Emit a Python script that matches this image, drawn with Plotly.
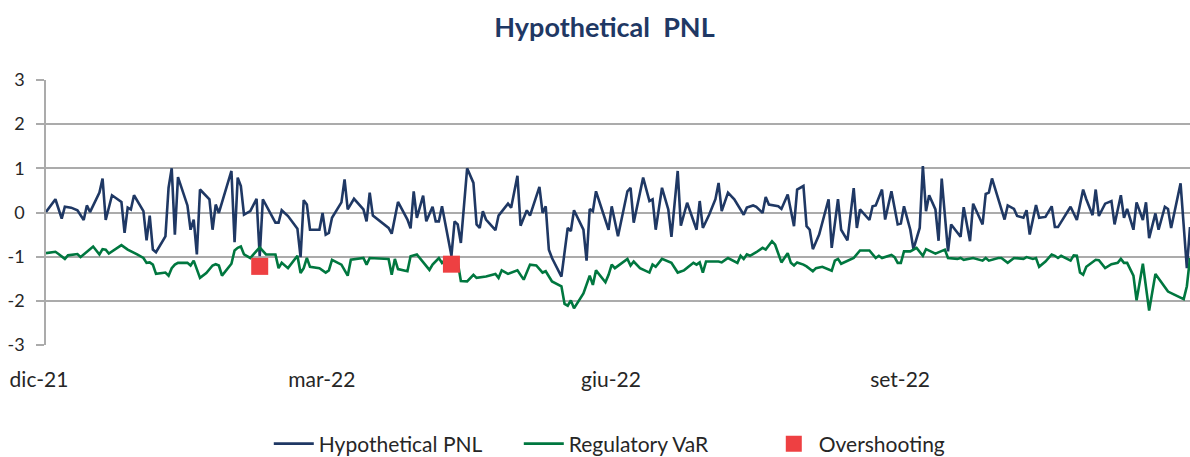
import pandas as pd
import plotly.graph_objects as go

start = pd.Timestamp("2021-12-01")

# Hypothetical PNL (days since 2021-12-01, value)
pnl_day = [0, 3, 5, 6, 8, 10, 12, 13, 14, 17,
           18, 19, 21, 24, 25, 26, 27, 28, 31, 32,
           33, 34, 35, 38, 39, 40, 41, 42, 45, 46,
           47, 48, 49, 52, 53, 54, 55, 59, 60, 61,
           62, 63, 65, 67, 68, 69, 73, 74, 75, 77,
           80, 81, 82, 83, 84, 87, 88, 89, 90, 91,
           94, 95, 96, 98, 101, 102, 103, 104, 109, 110,
           112, 115, 116, 117, 118, 120, 121, 123, 124, 125,
           126, 129, 130, 131, 132, 134, 136, 137, 138, 139,
           140, 143, 144, 147, 148, 150, 151, 153, 154, 157,
           158, 159, 160, 161, 164, 166, 167, 168, 171, 172,
           173, 174, 175, 179, 180, 182, 185, 186, 187, 190,
           192, 193, 194, 196, 198, 199, 201, 202, 204, 207,
           208, 209, 211, 213, 214, 215, 217, 219, 222, 223,
           225, 226, 228, 229, 230, 233, 234, 236, 238, 239,
           241, 242, 243, 244, 246, 249, 250, 252, 253, 255,
           257, 258, 259, 262, 263, 264, 266, 267, 269, 271,
           272, 273, 275, 276, 278, 279, 280, 281, 283, 284,
           285, 287, 288, 290, 291, 292, 294, 295, 298, 299,
           300, 301, 303, 305, 306, 308, 309, 311, 312, 313,
           315, 316, 318, 320, 321, 322, 326, 328, 330, 331,
           333, 334, 335, 337, 339, 340, 342, 343, 344, 346,
           347, 349, 350, 351, 353, 354, 356, 357, 358, 361,
           363, 364]
pnl_val = [0.01, 0.30, -0.14, 0.13, 0.11, 0.05, -0.17, 0.16, 0.01, 0.45,
           0.77, -0.17, 0.39, 0.24, -0.46, 0.11, 0.07, 0.39, 0.03, -0.63,
           -0.07, -0.84, -0.90, -0.54, 0.56, 1.00, -0.50, 0.80, 0.16, -0.39,
           -0.16, -0.95, 0.52, 0.30, -0.39, 0.18, -0.01, 0.94, -0.67, 0.79,
           0.60, -0.05, 0.03, 0.31, -0.99, 0.30, -0.23, -0.23, 0.05, -0.08,
           -0.37, -1.01, 0.28, 0.18, -0.39, -0.39, -0.01, -0.50, -0.46, -0.12,
           0.23, 0.75, 0.07, 0.31, 0.07, -0.20, 0.45, -0.07, -0.35, -0.48,
           0.24, -0.16, -0.36, 0.48, -0.12, 0.38, -0.20, 0.13, -0.20, -0.20,
           0.14, -0.98, -0.20, -0.27, -0.69, 1.00, 0.67, -0.27, -0.35, 0.03,
           -0.16, -0.40, -0.07, 0.20, 0.11, 0.83, -0.30, 0.05, -0.07, 0.58,
           -0.01, 0.14, -0.84, -1.03, -1.45, -0.35, -0.42, 0.05, -0.39, -1.09,
           0.08, 0.03, 0.48, -0.39, 0.14, -0.54, 0.48, 0.56, -0.23, 0.79,
           0.26, 0.30, -0.39, 0.56, 0.07, -0.55, 0.94, -0.30, 0.22, -0.39,
           0.26, -0.35, -0.05, 0.30, 0.67, 0.03, 0.45, 0.30, -0.05, 0.11,
           0.16, 0.13, -0.01, 0.35, 0.18, 0.14, 0.08, 0.41, -0.31, 0.52,
           0.60, -0.31, -0.39, -0.83, -0.50, 0.30, -0.80, 0.30, -0.39, -0.63,
           0.55, -0.35, 0.07, -0.17, 0.14, 0.16, 0.52, -0.16, 0.48, -0.27,
           -0.25, 0.14, -0.39, -0.83, -0.35, 1.05, 0.03, 0.39, 0.07, -0.64,
           0.77, -0.88, -0.27, -0.46, -0.55, 0.12, -0.65, 0.20, -0.27, 0.42,
           0.45, 0.77, 0.30, -0.16, 0.16, 0.08, -0.08, -0.12, 0.05, -0.50,
           0.17, -0.12, -0.10, 0.14, -0.33, -0.33, 0.13, -0.17, 0.52, 0.30,
           -0.06, 0.52, -0.08, 0.20, 0.26, -0.27, 0.39, -0.12, 0.08, -0.39,
           0.23, -0.17, 0.23, -0.58, -0.02, -0.39, 0.13, 0.08, -0.35, 0.66,
           -1.26, -0.33]

# Regulatory VaR (days since 2021-12-01, value)
var_day = [0, 3, 4, 6, 7, 10, 11, 15, 17, 18,
           19, 20, 24, 26, 29, 31, 32, 33, 34, 35,
           37, 38, 39, 40, 41, 42, 45, 46, 47, 49,
           51, 53, 54, 55, 56, 59, 60, 61, 62, 63,
           65, 67, 68, 70, 73, 74, 75, 77, 80, 81,
           82, 83, 84, 87, 89, 90, 91, 94, 96, 97,
           101, 102, 103, 109, 110, 111, 112, 115, 116, 118,
           121, 122, 123, 125, 126, 127, 131, 132, 134, 136,
           137, 140, 143, 144, 145, 147, 150, 152, 154, 156,
           158, 159, 161, 164, 165, 166, 167, 168, 171, 173,
           174, 175, 178, 179, 180, 181, 185, 186, 187, 189,
           192, 193, 194, 196, 199, 201, 203, 206, 207, 208,
           209, 210, 214, 215, 217, 220, 221, 222, 223, 224,
           226, 228, 229, 231, 232, 234, 236, 237, 238, 239,
           241, 242, 244, 245, 247, 248, 250, 251, 252, 253,
           255, 256, 257, 259, 262, 264, 265, 266, 269, 270,
           271, 272, 273, 275, 277, 279, 280, 283, 286, 287,
           290, 291, 292, 295, 298, 299, 300, 303, 304, 306,
           308, 311, 312, 314, 315, 316, 318, 320, 321, 322,
           323, 326, 327, 328, 329, 330, 331, 334, 335, 337,
           339, 341, 342, 343, 344, 346, 347, 349, 351, 353,
           357, 359, 362, 363, 364]
var_val = [-0.92, -0.89, -0.94, -1.05, -0.97, -0.94, -1.01, -0.77, -0.95, -0.83,
           -0.84, -0.93, -0.74, -0.84, -0.95, -1.03, -1.14, -1.13, -1.18, -1.39,
           -1.37, -1.36, -1.43, -1.26, -1.18, -1.14, -1.14, -1.20, -1.09, -1.48,
           -1.37, -1.20, -1.17, -1.20, -1.43, -1.16, -0.86, -0.80, -0.77, -0.95,
           -1.03, -0.88, -0.79, -0.95, -0.95, -1.26, -1.14, -1.26, -0.98, -1.37,
           -1.26, -1.03, -1.23, -1.26, -1.36, -1.31, -1.07, -1.18, -1.43, -1.07,
           -1.03, -1.18, -1.03, -1.05, -1.41, -1.05, -1.28, -1.33, -0.99, -0.95,
           -1.22, -1.30, -1.18, -1.03, -1.14, -1.07, -1.12, -1.55, -1.56, -1.41,
           -1.48, -1.45, -1.39, -1.48, -1.31, -1.39, -1.31, -1.52, -1.18, -1.20,
           -1.36, -1.33, -1.56, -1.67, -2.07, -2.11, -1.99, -2.17, -1.83, -1.43,
           -1.64, -1.31, -1.58, -1.41, -1.18, -1.26, -1.05, -1.20, -1.11, -1.26,
           -1.36, -1.18, -1.23, -1.05, -1.14, -1.36, -1.31, -1.14, -1.18, -1.13,
           -1.36, -1.11, -1.11, -1.13, -1.03, -1.14, -0.98, -1.05, -0.95, -0.98,
           -0.90, -0.80, -0.84, -0.65, -0.73, -1.13, -0.92, -1.14, -1.20, -1.13,
           -1.18, -1.22, -1.33, -1.26, -1.23, -1.26, -1.32, -1.09, -1.05, -1.16,
           -1.09, -1.05, -1.03, -0.86, -0.86, -1.03, -0.98, -1.03, -0.96, -1.01,
           -1.14, -1.14, -0.88, -0.88, -0.80, -0.98, -0.83, -0.93, -0.84, -1.03,
           -1.05, -1.03, -1.07, -1.03, -1.09, -1.03, -1.09, -1.03, -1.03, -1.14,
           -1.03, -1.05, -1.01, -1.05, -1.03, -1.23, -1.11, -0.95, -0.98, -1.03,
           -0.98, -1.09, -0.97, -0.98, -1.36, -1.41, -1.23, -1.07, -1.08, -1.26,
           -1.17, -1.14, -1.05, -1.14, -1.14, -1.43, -1.99, -1.16, -2.22, -1.39,
           -1.79, -1.86, -1.96, -1.67, -1.03]

# Overshooting events
over_day = [68, 129]
over_val = [-1.22, -1.17]

tick_dates = ["2021-12-01", "2022-03-01", "2022-06-01", "2022-09-01"]
tick_text = ["dic-21", "mar-22", "giu-22", "set-22"]
y_ticks = [-3, -2, -1, 0, 1, 2, 3]
y_text = ["-3", "-2", "-1", "0", "1", "2", "3"]


def to_dates(days):
    return start + pd.to_timedelta(days, unit="D")


NAVY = "#1F3864"
GREEN = "#00773F"
RED = "#EE4042"
GRID = "#ABABAB"
TXT = "#262626"
FONT = "Lato"

fig = go.Figure()
fig.add_trace(go.Scatter(x=to_dates(pnl_day), y=pnl_val, mode="lines",
                         name="Hypothetical PNL",
                         line=dict(color=NAVY, width=2.6)))
fig.add_trace(go.Scatter(x=to_dates(var_day), y=var_val, mode="lines",
                         name="Regulatory VaR",
                         line=dict(color=GREEN, width=2.6)))
fig.add_trace(go.Scatter(x=to_dates(over_day), y=over_val, mode="markers",
                         name="Overshooting",
                         marker=dict(symbol="square", size=17, color=RED,
                                     line=dict(width=0))))

fig.update_layout(
    width=1190, height=457,
    margin=dict(l=46, r=0, t=80, b=112),
    paper_bgcolor="white", plot_bgcolor="white",
    font=dict(family=FONT, color=TXT),
    title=dict(text="<b>Hypothetical  PNL</b>", x=0.508, xref="container",
               xanchor="center", y=1 - 28 / 457, yref="container",
               yanchor="middle", font=dict(size=27, color=NAVY, family=FONT)),
    showlegend=True,
    legend=dict(orientation="h", x=0.541, xanchor="center", xref="container",
                y=13 / 457, yref="container", yanchor="middle",
                font=dict(size=21, color=TXT, family=FONT),
                entrywidth=195, entrywidthmode="pixels",
                itemwidth=40, traceorder="normal"),
    xaxis=dict(type="date", range=["2021-12-01", "2022-11-30"],
               tickvals=tick_dates, ticktext=tick_text,
               showgrid=False, zeroline=False, showline=False,
               ticks="", ticklabelstandoff=20, ticklabelshift=-7,
               tickfont=dict(size=21, color=TXT, family=FONT)),
    yaxis=dict(range=[-3, 3], tickvals=y_ticks, ticktext=y_text,
               showgrid=True, gridcolor=GRID, gridwidth=1.5, zeroline=False,
               showline=True, linecolor=GRID, linewidth=1.5,
               ticks="outside", ticklen=8, tickcolor=GRID, tickwidth=1.5,
               ticklabelstandoff=8,
               tickfont=dict(size=18, color=TXT, family=FONT)),
)

fig.write_html(
    "out.html",
    config={"displayModeBar": False},
    post_script="document.body.style.margin='0';document.body.style.overflow='hidden';",
)
